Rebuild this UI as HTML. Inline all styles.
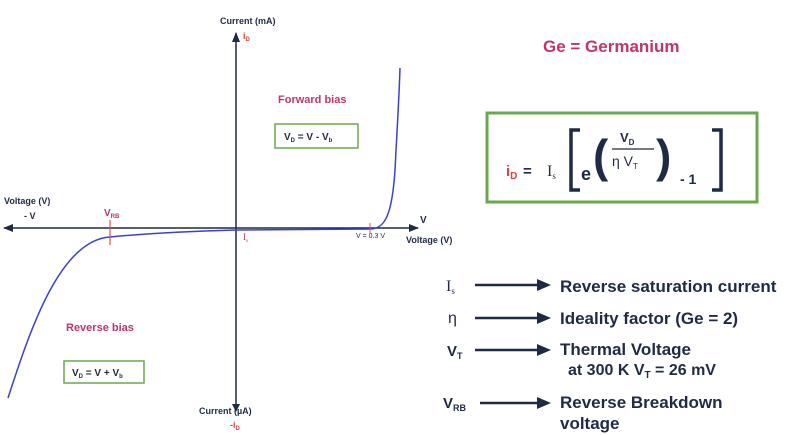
<!DOCTYPE html>
<html><head><meta charset="utf-8"><style>
body{margin:0;background:#fff;}
svg{display:block;font-family:"Liberation Sans",sans-serif;}
.b{font-weight:bold;fill:#1f2a44}
.p{font-weight:bold;fill:#c2336f}
</style></head><body>
<svg width="805" height="435" viewBox="0 0 805 435">
<defs><marker id="a" markerWidth="10" markerHeight="8" refX="9" refY="4" orient="auto" markerUnits="userSpaceOnUse"><path d="M0,0 L10,4 L0,8 z" fill="#1f2a44"/></marker></defs>
<line x1="236" y1="410" x2="236" y2="33" stroke="#1f2a44" stroke-width="1.5" marker-end="url(#a)"/>
<path d="M236,412 l-4,-8 l8,0z" fill="#1f2a44"/>
<line x1="236" y1="228" x2="418" y2="228" stroke="#1f2a44" stroke-width="1.5" marker-end="url(#a)"/>
<line x1="236" y1="228" x2="4" y2="228" stroke="#1f2a44" stroke-width="1.5" marker-end="url(#a)"/>
<path d="M8,398 C30,330 60,240 110,237 C150,233 200,231 236,230 L370,229 C385,229 392,215 395,170 C397,130 399,100 400,68" fill="none" stroke="#3b3fd6" stroke-width="1.5"/>
<line x1="110" y1="220" x2="110" y2="245" stroke="#e05050" stroke-width="1.2"/>
<line x1="370" y1="223" x2="370" y2="233" stroke="#e05050" stroke-width="1"/>
<text x="220" y="24" font-size="9" class="b">Current (mA)</text>
<text x="243" y="39" font-size="9" fill="#e0403f" font-weight="bold">i<tspan font-size="6" dy="2">D</tspan></text>
<text x="199" y="414" font-size="9" class="b">Current (µA)</text>
<text x="230" y="428" font-size="9" fill="#e0403f" font-weight="bold">-i<tspan font-size="6" dy="2">D</tspan></text>
<text x="4" y="204" font-size="9" class="b">Voltage (V)</text>
<text x="24" y="219" font-size="9" class="b">- V</text>
<text x="104" y="216" font-size="10" class="p">V<tspan font-size="6" dy="2">RB</tspan></text>
<text x="420" y="223" font-size="10" class="b">V</text>
<text x="406" y="243" font-size="9" class="b">Voltage (V)</text>
<text x="356" y="238" font-size="7" fill="#1f2a44">V = 0.3 V</text>
<text x="243" y="240" font-size="9" fill="#c2336f" font-family="Liberation Serif">I<tspan font-size="5" dy="2">s</tspan></text>
<text x="278" y="103" font-size="11" class="p">Forward bias</text>
<rect x="275" y="124" width="83" height="24" fill="none" stroke="#6aa84f" stroke-width="1.5"/>
<text x="284" y="140" font-size="10" class="b">V<tspan font-size="6" dy="2">D</tspan><tspan dy="-2"> = V - V</tspan><tspan font-size="6" dy="2">b</tspan></text>
<text x="66" y="331" font-size="11" class="p">Reverse bias</text>
<rect x="64" y="361" width="80" height="22" fill="none" stroke="#6aa84f" stroke-width="1.5"/>
<text x="72" y="376" font-size="10" class="b">V<tspan font-size="6" dy="2">D</tspan><tspan dy="-2"> = V + V</tspan><tspan font-size="6" dy="2">b</tspan></text>
<text x="543" y="52" font-size="17" class="p">Ge  =  Germanium</text>
<rect x="487" y="113" width="270" height="89" fill="none" stroke="#6aa84f" stroke-width="3"/>
<text x="506" y="176" font-size="15" font-weight="bold" fill="#e0403f">i<tspan font-size="10" dy="3">D</tspan></text>
<text x="523" y="176" font-size="15" class="b">=</text>
<text x="547" y="176" font-size="16" fill="#1f2a44" font-family="Liberation Serif">I<tspan font-size="9" dy="3">s</tspan></text>
<path d="M580,130 h-9 v60 h9" fill="none" stroke="#1f2a44" stroke-width="3.5"/>
<path d="M712,130 h9 v60 h-9" fill="none" stroke="#1f2a44" stroke-width="3.5"/>
<text x="581" y="180" font-size="18" class="b">e</text>
<text x="593" y="172" font-size="46" fill="#1f2a44" font-weight="bold">(</text>
<text x="656" y="172" font-size="46" fill="#1f2a44" font-weight="bold">)</text>
<text x="620" y="142" font-size="13" class="b">V<tspan font-size="8" dy="3">D</tspan></text>
<line x1="612" y1="149" x2="654" y2="149" stroke="#1f2a44" stroke-width="1.2"/>
<text x="612" y="166" font-size="14" fill="#1f2a44">η V<tspan font-size="8" dy="3">T</tspan></text>
<text x="680" y="184" font-size="14" class="b">- 1</text>
<g stroke="#1f2a44" stroke-width="2.5">
<line x1="475" y1="285" x2="540" y2="285"/>
<line x1="475" y1="318" x2="540" y2="318"/>
<line x1="475" y1="350" x2="540" y2="350"/>
<line x1="480" y1="403" x2="540" y2="403"/>
</g>
<g fill="#1f2a44"><path d="M551,285 l-14,-6 v12z"/><path d="M551,318 l-14,-6 v12z"/><path d="M551,350 l-14,-6 v12z"/><path d="M551,403 l-14,-6 v12z"/></g>
<text x="446" y="291" font-size="16" fill="#1f2a44" font-family="Liberation Serif">I<tspan font-size="9" dy="3">s</tspan></text>
<text x="448" y="323" font-size="16" fill="#1f2a44">η</text>
<text x="447" y="356" font-size="15" class="b">V<tspan font-size="9" dy="3">T</tspan></text>
<text x="443" y="408" font-size="15" class="b">V<tspan font-size="9" dy="3">RB</tspan></text>
<text x="560" y="292" font-size="17" class="b">Reverse saturation current</text>
<text x="560" y="324" font-size="17" class="b">Ideality factor (Ge = 2)</text>
<text x="560" y="355" font-size="17" class="b">Thermal Voltage</text>
<text x="568" y="375" font-size="16" class="b">at 300 K V<tspan font-size="10" dy="3">T</tspan><tspan dy="-3"> = 26 mV</tspan></text>
<text x="560" y="408" font-size="17" class="b">Reverse Breakdown</text>
<text x="560" y="429" font-size="17" class="b">voltage</text>
</svg>
</body></html>
